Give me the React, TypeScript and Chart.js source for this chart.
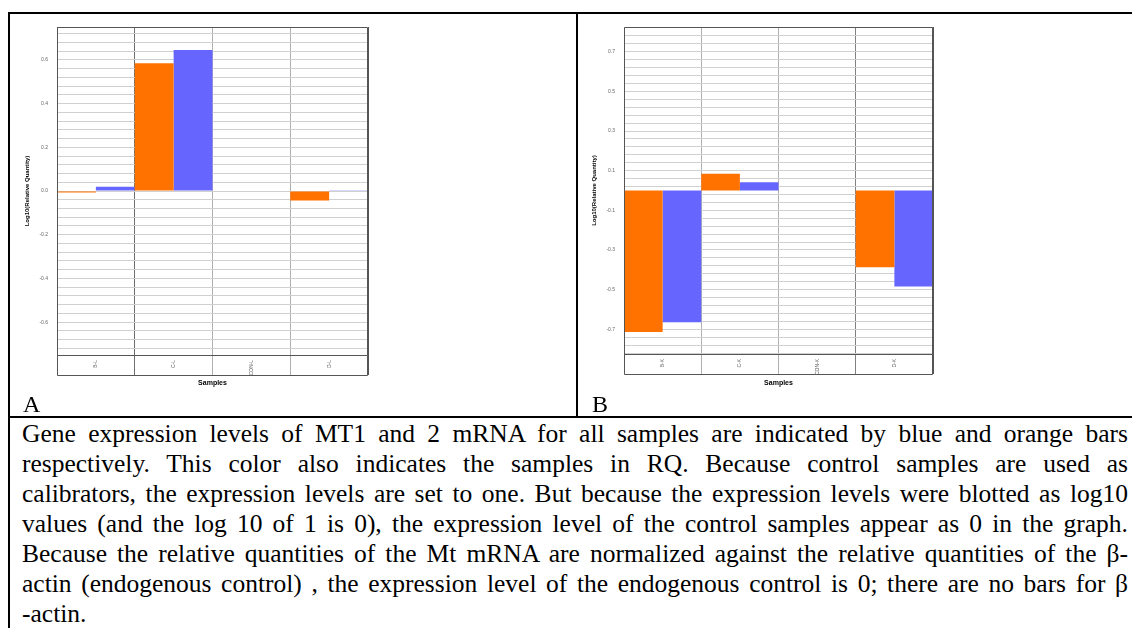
import React, { useEffect, useRef } from "react";
import { Chart, registerables } from "chart.js";

Chart.register(...registerables);

// ---------- data ----------
const CATEGORIES_A = ["B-L", "C-L", "CON-L", "D-L"];
const ORANGE_A = [-0.007, 0.584, 0, -0.044];
const BLUE_A = [0.02, 0.645, 0, 0.003];

const CATEGORIES_B = ["B-K", "C-K", "CON-K", "D-K"];
const ORANGE_B = [-0.714, 0.085, 0, -0.387];
const BLUE_B = [-0.665, 0.041, 0, -0.484];

const TICK_VALUES_A = [-0.6, -0.4, -0.2, 0, 0.2, 0.4, 0.6];
const TICK_LABELS_A = ["-0.6", "-0.4", "-0.2", "0.0", "0.2", "0.4", "0.6"];
const TICK_VALUES_B = [-0.7, -0.5, -0.3, -0.1, 0.1, 0.3, 0.5, 0.7];
const TICK_LABELS_B = ["-0.7", "-0.5", "-0.3", "-0.1", "0.1", "0.3", "0.5", "0.7"];

const Y_TITLE = "Log10(Relative Quantity)";
const X_TITLE = "Samples";

const CAPTION_LINES = [
  "Gene expression levels of MT1 and 2 mRNA for all samples are indicated by blue and orange bars",
  "respectively. This color also indicates the samples in RQ. Because control samples are used as",
  "calibrators, the expression levels are set to one. But because the expression levels were blotted as log10",
  "values (and the log 10 of 1 is 0), the expression level of the control samples appear as 0 in the graph.",
  "Because the relative quantities of the Mt mRNA are normalized against the relative quantities of the \u03b2-",
  "actin (endogenous control) , the expression level of the endogenous control is 0; there are no bars for \u03b2",
  "-actin.",
];

// ---------- styles ----------
const ORANGE = "#FF7200";
const BLUE = "#6666FF";
const CAT_LINES_A = ["#555555", "#707070", "#b0b0b0", "#b0b0b0"];
const CAT_LINES_B = ["#555555", "#b0b0b0", "#b0b0b0", "#808080"];
const SMALL_FONT = "'Liberation Sans Narrow', 'Liberation Sans', Arial, sans-serif";

type PanelProps = {
  labels: string[];
  orange: number[];
  blue: number[];
  yMin: number;
  yMax: number;
  gridStart: number;
  tickValues: number[];
  tickLabels: string[];
  catLines: string[];
  width: number;
  height: number;
  yWidth: number;
  xHeight: number;
  padTop: number;
  padRight: number;
  yTitlePad: number;
  labelPad: number;
};

const framePlugin = {
  id: "frame",
  afterDraw(chart: any) {
    const { ctx, chartArea } = chart;
    const { left, right, top, bottom } = chartArea;
    ctx.save();
    ctx.strokeStyle = "#555555";
    ctx.lineWidth = 1;
    ctx.beginPath();
    ctx.rect(Math.round(left) + 0.5, Math.round(top) + 0.5, Math.round(right - left) - 1, Math.round(bottom - top));
    ctx.moveTo(Math.round(left) + 0.5, Math.round(bottom) + 0.5);
    ctx.lineTo(Math.round(left) + 0.5, Math.round(bottom) + 20.5);
    ctx.lineTo(Math.round(right) - 0.5, Math.round(bottom) + 20.5);
    ctx.lineTo(Math.round(right) - 0.5, Math.round(bottom) + 0.5);
    ctx.stroke();
    ctx.restore();
  },
};

function Panel(p: PanelProps) {
  const ref = useRef<HTMLCanvasElement | null>(null);
  useEffect(() => {
    if (!ref.current) return;
    const chart = new Chart(ref.current, {
      type: "bar",
      data: {
        labels: p.labels,
        datasets: [
          {
            data: p.orange,
            backgroundColor: ORANGE,
            borderWidth: 0,
            inflateAmount: 0,
            barPercentage: 1,
            categoryPercentage: 1,
          },
          {
            data: p.blue,
            backgroundColor: BLUE,
            borderWidth: 0,
            inflateAmount: 0,
            barPercentage: 1,
            categoryPercentage: 1,
          },
        ],
      },
      options: {
        responsive: false,
        animation: false,
        events: [],
        layout: { padding: { left: 0, top: p.padTop, right: p.padRight, bottom: 0 } },
        plugins: {
          legend: { display: false },
          tooltip: { enabled: false },
          title: { display: false },
        },
        scales: {
          x: {
            offset: true,
            border: { display: false },
            grid: {
              offset: true,
              drawTicks: true,
              tickLength: 20,
              lineWidth: 1,
              color: (ctx: any) =>
                ctx.index === undefined ? "#555555" : p.catLines[ctx.index] || "#555555",
            },
            ticks: {
              autoSkip: false,
              minRotation: 90,
              maxRotation: 90,
              padding: p.labelPad,
              color: "#555555",
              font: { size: 5, family: SMALL_FONT },
            },
            title: {
              display: true,
              text: X_TITLE,
              color: "#000000",
              font: { size: 7, weight: "bold", family: SMALL_FONT },
              padding: { top: 0, bottom: 8 },
            },
            afterFit: (scale: any) => {
              scale.height = p.xHeight;
            },
          },
          y: {
            min: p.yMin,
            max: p.yMax,
            border: { display: false },
            grid: { drawTicks: false, color: "#d0d0d0", lineWidth: 1 },
            afterBuildTicks: (scale: any) => {
              const t: { value: number }[] = [];
              for (let v = p.gridStart; v <= p.yMax + 1e-9; v += 0.04) {
                t.push({ value: Math.round(v * 1000) / 1000 });
              }
              scale.ticks = t;
            },
            ticks: {
              autoSkip: false,
              padding: 9,
              color: "#666666",
              font: { size: 5, family: SMALL_FONT },
              callback: (value: any) => {
                const i = p.tickValues.findIndex((v) => Math.abs(v - Number(value)) < 1e-6);
                return i >= 0 ? p.tickLabels[i] : "";
              },
            },
            title: {
              display: true,
              text: Y_TITLE,
              color: "#000000",
              font: { size: 6, weight: "bold", family: SMALL_FONT },
              padding: { top: p.yTitlePad, bottom: 0 },
            },
            afterFit: (scale: any) => {
              scale.width = p.yWidth;
            },
          },
        },
      } as any,
      plugins: [framePlugin],
    });
    return () => chart.destroy();
  }, []);
  return <canvas ref={ref} width={p.width} height={p.height} style={{ display: "block" }} />;
}

const SERIF = "'Liberation Serif', 'Times New Roman', serif";

export default function App() {
  const line = (style: React.CSSProperties) => (
    <div style={{ position: "absolute", background: "#000", ...style }} />
  );
  return (
    <div
      style={{
        position: "absolute",
        left: 0,
        top: 0,
        width: 1132,
        height: 628,
        overflow: "hidden",
        background: "#fff",
        fontFamily: SERIF,
      }}
    >
      {line({ left: 8, top: 12, width: 1124, height: 2 })}
      {line({ left: 8, top: 12, width: 2, height: 616 })}
      {line({ left: 576, top: 12, width: 2, height: 405 })}
      {line({ left: 8, top: 416, width: 1124, height: 2 })}

      <div style={{ position: "absolute", left: 10, top: 15 }}>
        <Panel
          labels={CATEGORIES_A}
          orange={ORANGE_A}
          blue={BLUE_A}
          yMin={-0.75}
          yMax={0.75}
          gridStart={-0.72}
          tickValues={TICK_VALUES_A}
          tickLabels={TICK_LABELS_A}
          catLines={CAT_LINES_A}
          width={560}
          height={380}
          yWidth={47}
          xHeight={40}
          padTop={9}
          padRight={202}
          yTitlePad={14}
          labelPad={-15}
        />
      </div>
      <div style={{ position: "absolute", left: 579, top: 15 }}>
        <Panel
          labels={CATEGORIES_B}
          orange={ORANGE_B}
          blue={BLUE_B}
          yMin={-0.825}
          yMax={0.825}
          gridStart={-0.82}
          tickValues={TICK_VALUES_B}
          tickLabels={TICK_LABELS_B}
          catLines={CAT_LINES_B}
          width={550}
          height={380}
          yWidth={45}
          xHeight={41}
          padTop={9}
          padRight={196}
          yTitlePad={12}
          labelPad={-15}
        />
      </div>

      <div style={{ position: "absolute", left: 23, top: 392, fontSize: 24, lineHeight: "24px" }}>A</div>
      <div style={{ position: "absolute", left: 592, top: 392, fontSize: 24, lineHeight: "24px" }}>B</div>

      <div style={{ position: "absolute", left: 22, top: 419, width: 1106, fontSize: 25.5, color: "#000" }}>
        {CAPTION_LINES.map((t, i) => (
          <div
            key={i}
            style={{
              height: 30,
              lineHeight: "30px",
              textAlign: i < CAPTION_LINES.length - 1 ? "justify" : "left",
              textAlignLast: i < CAPTION_LINES.length - 1 ? "justify" : "left",
            }}
          >
            {t}
          </div>
        ))}
      </div>
    </div>
  );
}
